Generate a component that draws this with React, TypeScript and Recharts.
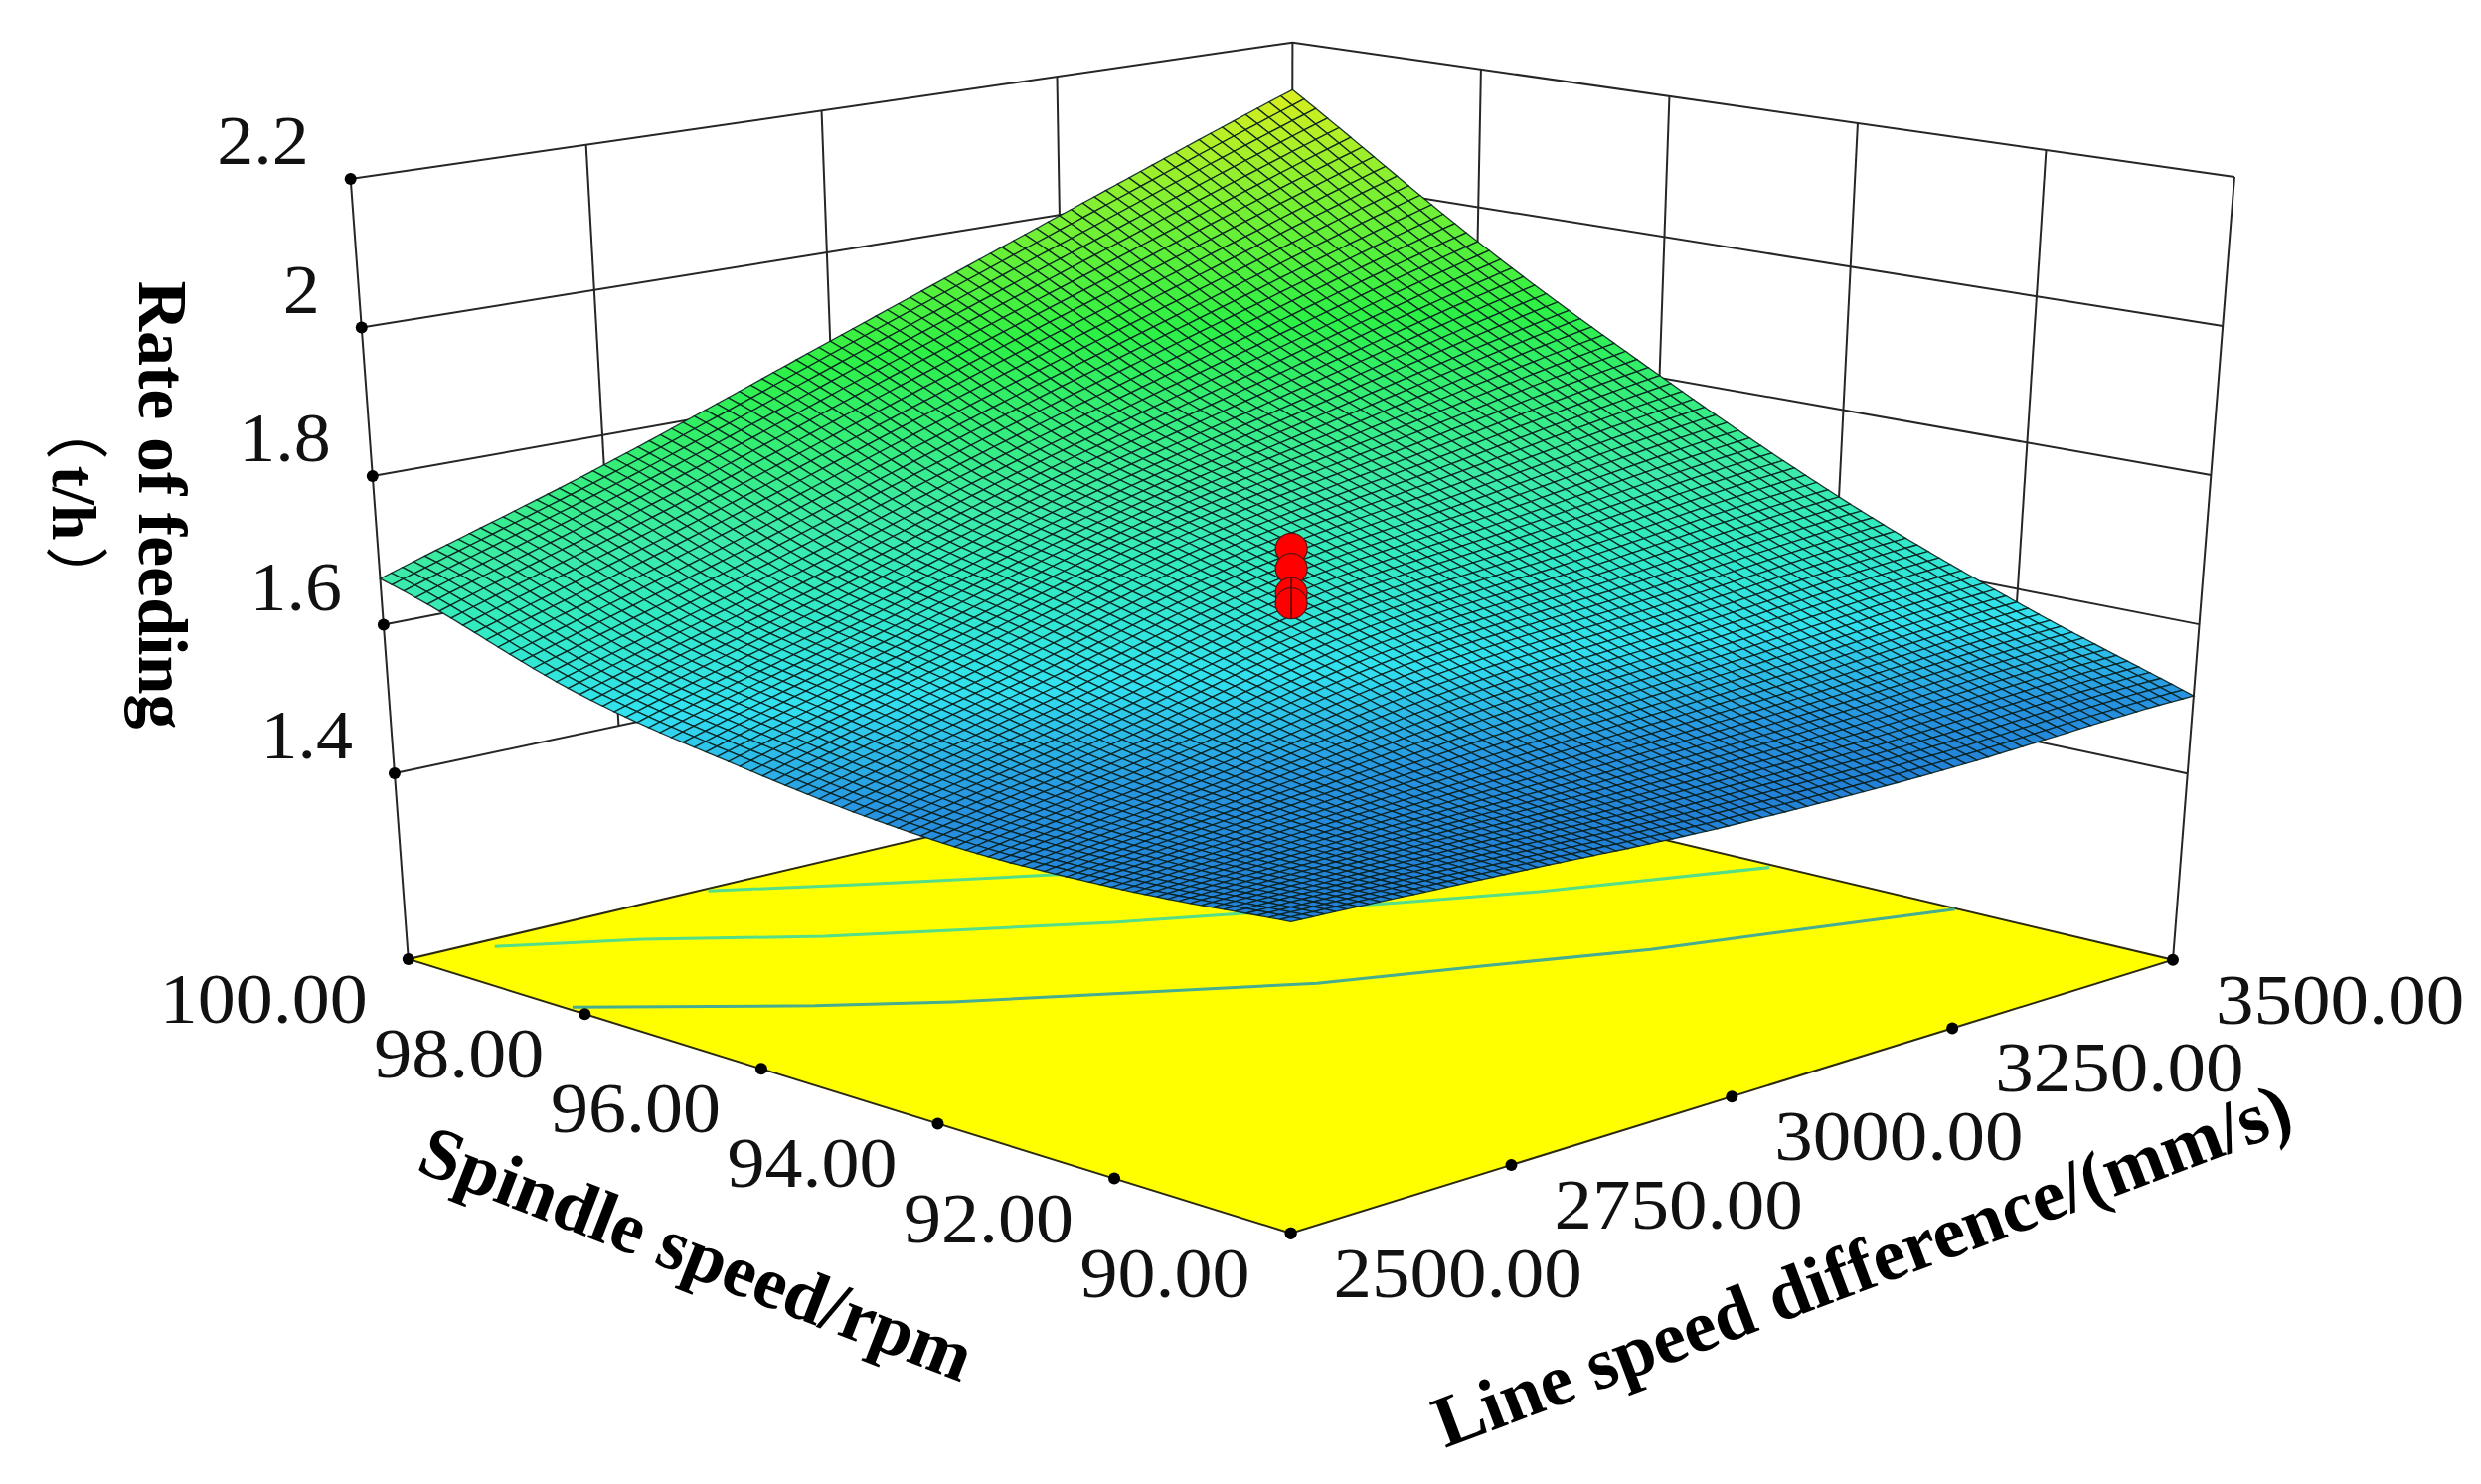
import React from 'react';
import { ScatterChart, Scatter, XAxis, YAxis } from 'recharts';

const W = 2496;
const H = 1493;

// Value ranges of the three axes
const spindleTicks = [90, 92, 94, 96, 98, 100];
const lineSpeedTicks = [2500, 2750, 3000, 3250, 3500];
const rateTicks = [1.4, 1.6, 1.8, 2, 2.2];
const RATE_FLOOR = 1.15;
const RATE_TOP = 2.2;

// Surface heights: one row per spindle tick, one column per line speed tick
const rate90 = [1.385, 1.398, 1.414, 1.447, 1.504];
const rate92 = [1.391, 1.425, 1.465, 1.514, 1.582];
const rate94 = [1.41, 1.468, 1.545, 1.603, 1.679];
const rate96 = [1.455, 1.535, 1.63, 1.71, 1.803];
const rate98 = [1.529, 1.618, 1.722, 1.83, 1.95];
const rate100 = [1.662, 1.759, 1.875, 1.999, 2.13];
const rateGrid = [rate90, rate92, rate94, rate96, rate98, rate100];

// Design points at the centre of the plot
const centreSpindle = 95;
const centreLine = 3000;
const centreRates = [1.64, 1.617, 1.589, 1.577];

// Contours on the floor, as [spindle, line speed]
const contourA = [[99.95, 2835], [99.32, 2939], [98.48, 3079], [97.9, 3160]];
const contourB = [[99.84, 2582], [99.25, 2690], [98.37, 2809], [97.76, 2909], [97.12, 3011], [96.63, 3097], [95.93, 3217], [95.36, 3318], [94.51, 3494]];
const contourC = [[98.2, 2506], [96.98, 2659], [96.33, 2750], [95.62, 2861], [94.7, 3000], [94.1, 3129], [93.46, 3254], [92.89, 3396], [92.45, 3498]];

const colourStops: [number, number[]][] = [
  [1.385, [35, 130, 215]],
  [1.43, [40, 150, 225]],
  [1.5, [50, 225, 240]],
  [1.6, [50, 235, 190]],
  [1.66, [60, 235, 170]],
  [1.85, [45, 240, 70]],
  [2.0, [125, 240, 50]],
  [2.13, [220, 238, 30]],
];

// View of the box
const floorFront = [1298.6, 1240.7];
const floorLeft = [410.8, 965];
const floorRight = [2186, 965.7];
const floorBack = [1298.2, 756];
const topFront = [1299, -159];
const topLeft = [352.7, 180];
const topRight = [2248, 178];
const topBack = [1300.4, 42.7];

const mix = (p: number[], q: number[], t: number) => [p[0] + (q[0] - p[0]) * t, p[1] + (q[1] - p[1]) * t];
const quad = (o: number[], l: number[], r: number[], b: number[], a: number, s: number) => mix(mix(o, l, a), mix(r, b, a), s);

function project(spindle: number, line: number, rate: number) {
  const a = (spindle - 90) / 10;
  const b = (line - 2500) / 1000;
  const c = (rate - RATE_FLOOR) / (RATE_TOP - RATE_FLOOR);
  const f = quad(floorFront, floorLeft, floorRight, floorBack, a, b);
  const t = quad(topFront, topLeft, topRight, topBack, a, b);
  const p = mix(f, t, c);
  return { x: p[0], y: p[1] };
}

function spline(v: number[], t: number) {
  const n = v.length - 1;
  const i = Math.min(Math.floor(t), n - 1);
  const f = t - i;
  const p1 = v[i];
  const p2 = v[i + 1];
  const p0 = i > 0 ? v[i - 1] : 2 * p1 - p2;
  const p3 = i + 2 <= n ? v[i + 2] : 2 * p2 - p1;
  return 0.5 * (2 * p1 + (p2 - p0) * f + (2 * p0 - 5 * p1 + 4 * p2 - p3) * f * f + (3 * p1 - p0 - 3 * p2 + p3) * f * f * f);
}

function surfaceAt(u: number, v: number) {
  const col = rateGrid.map((row) => spline(row, v * (row.length - 1)));
  return spline(col, u * (col.length - 1));
}

function colourOf(z: number) {
  let i = 0;
  while (i < colourStops.length - 2 && z > colourStops[i + 1][0]) i++;
  const [z0, c0] = colourStops[i];
  const [z1, c1] = colourStops[i + 1];
  const t = Math.max(0, Math.min(1, (z - z0) / (z1 - z0)));
  return `rgb(${c0.map((k, j) => Math.round(k + (c1[j] - k) * t)).join(',')})`;
}

const MESH = 80;
const COLOUR_SKEW = 0.08;
const meshCells: any[] = [];
for (let i = MESH - 1; i >= 0; i--) {
  for (let j = MESH - 1; j >= 0; j--) {
    const corners = [[i, j], [i + 1, j], [i + 1, j + 1], [i, j + 1]].map(([p, q]) => {
      const z = surfaceAt(p / MESH, q / MESH);
      return { z, ...project(90 + (10 * p) / MESH, 2500 + (1000 * q) / MESH, z) };
    });
    const zMean = corners.reduce((s, k) => s + k.z, 0) / 4;
    const x = corners.reduce((s, k) => s + k.x, 0) / 4;
    const y = corners.reduce((s, k) => s + k.y, 0) / 4;
    const tint = zMean - COLOUR_SKEW * ((j + 0.5) / MESH) * (1 - (i + 0.5) / MESH);
    meshCells.push({ x, y, corners, fill: colourOf(tint) });
  }
}

const floorPoint = (() => {
  const corners = [project(90, 2500, RATE_FLOOR), project(100, 2500, RATE_FLOOR), project(100, 3500, RATE_FLOOR), project(90, 3500, RATE_FLOOR)];
  return [{ x: corners[0].x, y: corners[0].y, corners }];
})();

const Cell = (props: any) => {
  const { cx, cy, payload } = props;
  const dx = cx - payload.x;
  const dy = cy - payload.y;
  const pts = payload.corners.map((k: any) => `${(k.x + dx).toFixed(1)},${(k.y + dy).toFixed(1)}`).join(' ');
  return <polygon points={pts} fill={payload.fill} stroke="#08201f" strokeWidth={1.3} strokeOpacity={0.9} />;
};

const FloorShape = (props: any) => {
  const { cx, cy, payload } = props;
  const dx = cx - payload.x;
  const dy = cy - payload.y;
  const pts = payload.corners.map((k: any) => `${k.x + dx},${k.y + dy}`).join(' ');
  return <polygon points={pts} fill="#ffff00" stroke="#2a2a10" strokeWidth={2} />;
};

const serif = '"Liberation Serif", "Noto Sans CJK SC", serif';

const emWidth = (s: string) => s.split('').reduce((sum, ch) => sum + (ch === '.' ? 0.25 : 0.5), 0);

const tickShape = (anchor: 'start' | 'end', dx: number, dy: number, size: number, stretched: number) => (props: any) => {
  const { cx, cy, payload } = props;
  return (
    <g>
      <circle cx={cx} cy={cy} r={6} fill="#000" />
      <text
        x={cx + dx}
        y={cy + dy}
        textAnchor={anchor}
        fontFamily={serif}
        fontSize={size}
        fill="#111"
        textLength={emWidth(payload.label) * stretched}
        lengthAdjust="spacingAndGlyphs"
      >
        {payload.label}
      </text>
    </g>
  );
};

const DotShape = (props: any) => {
  const { cx, cy, index } = props;
  return (
    <g>
      <ellipse cx={cx} cy={cy} rx={16} ry={15.5} fill="#ff0000" stroke="#5a1010" strokeWidth={1.2} />
      {index >= 2 ? <line x1={cx} x2={cx} y1={cy - 15} y2={cy + 15} stroke="#401010" strokeWidth={1.5} /> : null}
      {index === 2 ? <line x1={cx - 16} x2={cx + 16} y1={cy + 5} y2={cy + 5} stroke="#401010" strokeWidth={1.5} /> : null}
    </g>
  );
};

const noMark = () => <g />;

const titles = [
  { text: 'Spindle speed/rpm', x: 692, y: 1284, angle: 21.2, size: 74 },
  { text: 'Line speed difference/(mm/s)', x: 1882, y: 1296, angle: -20.6, size: 74 },
  { text: 'Rate of feeding', x: 140, y: 508, angle: 90, size: 70 },
];
const unitTitle = [{ x: 53, y: 506, open: '（', unit: 't/h', close: '）' }];

const TitleShape = (props: any) => {
  const { cx, cy, payload } = props;
  return (
    <text
      x={cx}
      y={cy}
      textAnchor="middle"
      fontFamily={serif}
      fontSize={payload.size}
      fontWeight={700}
      fill="#000"
      transform={`rotate(${payload.angle} ${cx} ${cy})`}
    >
      {payload.text}
    </text>
  );
};

const UnitShape = (props: any) => {
  const { cx, cy, payload } = props;
  return (
    <text x={cx} y={cy} textAnchor="middle" fontFamily={serif} fontSize={64} fill="#000" transform={`rotate(90 ${cx} ${cy})`}>
      <tspan fontWeight={400}>{payload.open}</tspan>
      <tspan fontWeight={700} dx={6}>{payload.unit}</tspan>
      <tspan fontWeight={400} dx={6}>{payload.close}</tspan>
    </text>
  );
};

const wallLine = (pts: { x: number; y: number }[], key: string, colour = '#262626', width = 2) => (
  <Scatter key={key} data={pts} shape={noMark} line={{ stroke: colour, strokeWidth: width }} isAnimationActive={false} />
);

const wallLines: React.ReactNode[] = [];
rateTicks.forEach((z) => {
  wallLines.push(wallLine([project(100, 2500, z), project(100, 3500, z), project(90, 3500, z)], `z${z}`));
});
lineSpeedTicks.forEach((l, i) => {
  wallLines.push(wallLine([project(100, l, i === 0 ? RATE_FLOOR : rateTicks[0]), project(100, l, RATE_TOP)], `l${l}`));
});
spindleTicks.slice(0, -1).forEach((s, i) => {
  wallLines.push(wallLine([project(s, 3500, i === 0 ? RATE_FLOOR : rateTicks[0]), project(s, 3500, RATE_TOP)], `s${s}`));
});

const contourPath = (c: number[][]) => c.map(([s, l]) => project(s, l, RATE_FLOOR));

const spindleData = spindleTicks.map((s) => ({ ...project(s, 2500, RATE_FLOOR), label: s.toFixed(2) }));
const lineData = lineSpeedTicks.map((l) => ({ ...project(90, l, RATE_FLOOR), label: l.toFixed(2) }));
const rateData = rateTicks.map((z) => ({ ...project(100, 2500, z), label: String(z) }));
const centreData = centreRates.map((z) => project(centreSpindle, centreLine, z));

export default function App() {
  return (
    <div style={{ position: 'absolute', left: 0, top: 0, width: W, height: H, background: '#fff', overflow: 'hidden' }}>
      <ScatterChart width={W} height={H} margin={{ top: 0, right: 0, bottom: 0, left: 0 }}>
        <XAxis type="number" dataKey="x" domain={[0, W]} hide />
        <YAxis type="number" dataKey="y" domain={[0, H]} reversed hide />
        {wallLines}
        <Scatter data={floorPoint} shape={FloorShape} isAnimationActive={false} />
        <Scatter data={contourPath(contourA)} shape={noMark} line={{ stroke: '#55dd88', strokeWidth: 3 }} isAnimationActive={false} />
        <Scatter data={contourPath(contourB)} shape={noMark} line={{ stroke: '#55dd88', strokeWidth: 3 }} isAnimationActive={false} />
        <Scatter data={contourPath(contourC)} shape={noMark} line={{ stroke: '#46ad90', strokeWidth: 3 }} isAnimationActive={false} />
        <Scatter data={meshCells} shape={Cell} isAnimationActive={false} />
        <Scatter data={centreData} shape={DotShape} isAnimationActive={false} />
        <Scatter data={spindleData} shape={tickShape('end', -41, 64, 71, 76)} isAnimationActive={false} />
        <Scatter data={lineData} shape={tickShape('start', 43, 64, 71, 77)} isAnimationActive={false} />
        <Scatter data={rateData} shape={tickShape('end', -42, -15, 70, 74)} isAnimationActive={false} />
        <Scatter data={titles} shape={TitleShape} isAnimationActive={false} />
        <Scatter data={unitTitle} shape={UnitShape} isAnimationActive={false} />
      </ScatterChart>
    </div>
  );
}
